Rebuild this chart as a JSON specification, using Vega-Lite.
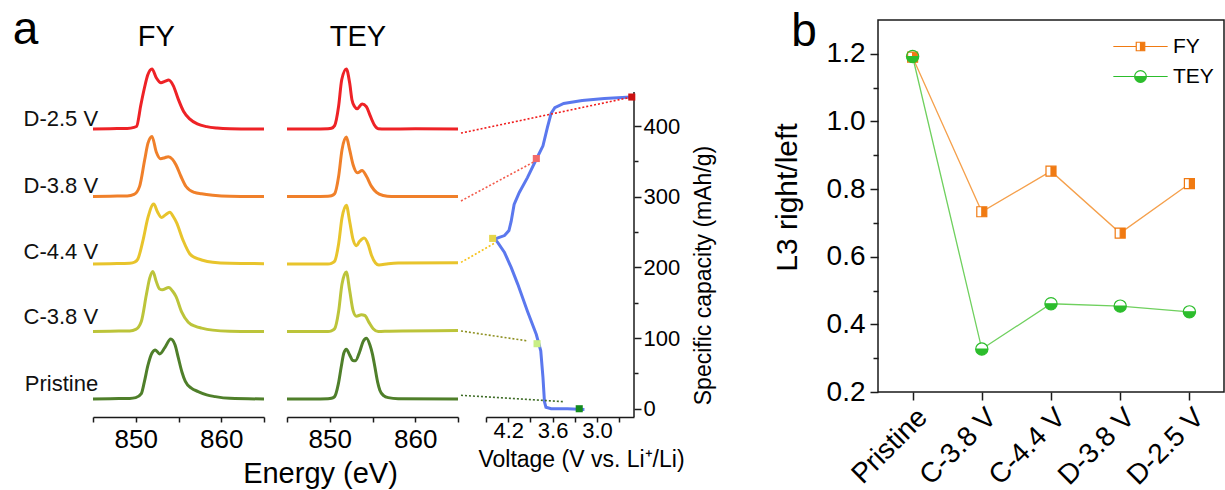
{
"$schema": "https://vega.github.io/schema/vega-lite/v6.json",
"padding": {"left": 12, "top": 6, "right": 0, "bottom": 0},
"background": "white",
"config": {
  "font": "Liberation Sans",
  "view": {"stroke": null},
  "axis": {"grid": false, "domainColor": "#1a1a1a", "tickColor": "#1a1a1a", "domainWidth": 1.5, "tickWidth": 1.5, "labelColor": "#000", "titleColor": "#000", "titleFontWeight": "normal", "labelFlush": false, "labelOverlap": false}
},
"bounds": "flush",
"spacing": 0,
"resolve": {"scale": {"color": "independent", "stroke": "independent", "fill": "independent", "shape": "independent"}, "legend": {"fill": "independent", "stroke": "independent", "shape": "independent"}},
"datasets": {
"fy": [
{"s":"D-2.5 V","e":845,"v":4.0},{"s":"D-2.5 V","e":847,"v":4.005},{"s":"D-2.5 V","e":849,"v":4.008},{"s":"D-2.5 V","e":849.8,"v":4.025},{"s":"D-2.5 V","e":850.1,"v":4.04},{"s":"D-2.5 V","e":850.6,"v":4.36},{"s":"D-2.5 V","e":851.0,"v":4.6},{"s":"D-2.5 V","e":851.4,"v":4.8},{"s":"D-2.5 V","e":851.9,"v":4.89},{"s":"D-2.5 V","e":852.4,"v":4.76},{"s":"D-2.5 V","e":852.95,"v":4.685},{"s":"D-2.5 V","e":853.4,"v":4.705},{"s":"D-2.5 V","e":853.85,"v":4.725},{"s":"D-2.5 V","e":854.4,"v":4.64},{"s":"D-2.5 V","e":854.95,"v":4.45},{"s":"D-2.5 V","e":855.6,"v":4.26},{"s":"D-2.5 V","e":856.3,"v":4.15},{"s":"D-2.5 V","e":857.2,"v":4.075},{"s":"D-2.5 V","e":858.3,"v":4.035},{"s":"D-2.5 V","e":859.5,"v":4.015},{"s":"D-2.5 V","e":861,"v":4.005},{"s":"D-2.5 V","e":865,"v":4.0},
{"s":"D-3.8 V","e":845,"v":3.0},{"s":"D-3.8 V","e":847,"v":3.005},{"s":"D-3.8 V","e":849,"v":3.008},{"s":"D-3.8 V","e":849.8,"v":3.03},{"s":"D-3.8 V","e":850.45,"v":3.15},{"s":"D-3.8 V","e":851.04,"v":3.54},{"s":"D-3.8 V","e":851.43,"v":3.79},{"s":"D-3.8 V","e":851.9,"v":3.89},{"s":"D-3.8 V","e":852.4,"v":3.66},{"s":"D-3.8 V","e":852.9,"v":3.56},{"s":"D-3.8 V","e":853.4,"v":3.575},{"s":"D-3.8 V","e":853.8,"v":3.59},{"s":"D-3.8 V","e":854.3,"v":3.55},{"s":"D-3.8 V","e":854.7,"v":3.47},{"s":"D-3.8 V","e":855.28,"v":3.3},{"s":"D-3.8 V","e":855.88,"v":3.148},{"s":"D-3.8 V","e":856.86,"v":3.06},{"s":"D-3.8 V","e":857.7,"v":3.04},{"s":"D-3.8 V","e":859,"v":3.02},{"s":"D-3.8 V","e":861,"v":3.005},{"s":"D-3.8 V","e":865,"v":3.0},
{"s":"C-4.4 V","e":845,"v":2.0},{"s":"C-4.4 V","e":847,"v":2.005},{"s":"C-4.4 V","e":849.3,"v":2.01},{"s":"C-4.4 V","e":849.9,"v":2.03},{"s":"C-4.4 V","e":850.25,"v":2.074},{"s":"C-4.4 V","e":850.84,"v":2.346},{"s":"C-4.4 V","e":851.43,"v":2.69},{"s":"C-4.4 V","e":852.1,"v":2.889},{"s":"C-4.4 V","e":852.55,"v":2.77},{"s":"C-4.4 V","e":853.0,"v":2.69},{"s":"C-4.4 V","e":853.5,"v":2.73},{"s":"C-4.4 V","e":853.98,"v":2.765},{"s":"C-4.4 V","e":854.4,"v":2.7},{"s":"C-4.4 V","e":854.76,"v":2.617},{"s":"C-4.4 V","e":855.55,"v":2.346},{"s":"C-4.4 V","e":856.33,"v":2.148},{"s":"C-4.4 V","e":857.0,"v":2.09},{"s":"C-4.4 V","e":857.7,"v":2.06},{"s":"C-4.4 V","e":859,"v":2.025},{"s":"C-4.4 V","e":861,"v":2.01},{"s":"C-4.4 V","e":865,"v":2.005},
{"s":"C-3.8 V","e":845,"v":1.0},{"s":"C-3.8 V","e":847,"v":1.005},{"s":"C-3.8 V","e":849.3,"v":1.008},{"s":"C-3.8 V","e":850.0,"v":1.03},{"s":"C-3.8 V","e":850.65,"v":1.148},{"s":"C-3.8 V","e":851.24,"v":1.543},{"s":"C-3.8 V","e":851.63,"v":1.79},{"s":"C-3.8 V","e":852.0,"v":1.889},{"s":"C-3.8 V","e":852.4,"v":1.74},{"s":"C-3.8 V","e":852.8,"v":1.63},{"s":"C-3.8 V","e":853.1,"v":1.62},{"s":"C-3.8 V","e":853.86,"v":1.652},{"s":"C-3.8 V","e":854.3,"v":1.6},{"s":"C-3.8 V","e":854.7,"v":1.52},{"s":"C-3.8 V","e":855.35,"v":1.296},{"s":"C-3.8 V","e":856.14,"v":1.138},{"s":"C-3.8 V","e":857.0,"v":1.075},{"s":"C-3.8 V","e":857.7,"v":1.05},{"s":"C-3.8 V","e":859,"v":1.02},{"s":"C-3.8 V","e":861,"v":1.005},{"s":"C-3.8 V","e":865,"v":1.0},
{"s":"Pristine","e":845,"v":0},{"s":"Pristine","e":847,"v":0.005},{"s":"Pristine","e":849.3,"v":0.008},{"s":"Pristine","e":850.0,"v":0.02},{"s":"Pristine","e":850.65,"v":0.08},{"s":"Pristine","e":851.0,"v":0.25},{"s":"Pristine","e":851.43,"v":0.5},{"s":"Pristine","e":851.9,"v":0.68},{"s":"Pristine","e":852.29,"v":0.726},{"s":"Pristine","e":852.8,"v":0.667},{"s":"Pristine","e":853.4,"v":0.76},{"s":"Pristine","e":854.09,"v":0.889},{"s":"Pristine","e":854.6,"v":0.8},{"s":"Pristine","e":854.96,"v":0.62},{"s":"Pristine","e":855.4,"v":0.4},{"s":"Pristine","e":855.8,"v":0.26},{"s":"Pristine","e":856.5,"v":0.16},{"s":"Pristine","e":857.3,"v":0.11},{"s":"Pristine","e":858.3,"v":0.06},{"s":"Pristine","e":859.3,"v":0.035},{"s":"Pristine","e":861,"v":0.01},{"s":"Pristine","e":865,"v":0}
],
"tey": [
{"s":"D-2.5 V","e":845,"v":4.0},{"s":"D-2.5 V","e":848,"v":4.0},{"s":"D-2.5 V","e":849.8,"v":4.005},{"s":"D-2.5 V","e":850.2,"v":4.012},{"s":"D-2.5 V","e":850.57,"v":4.05},{"s":"D-2.5 V","e":851.04,"v":4.34},{"s":"D-2.5 V","e":851.4,"v":4.73},{"s":"D-2.5 V","e":851.94,"v":4.89},{"s":"D-2.5 V","e":852.33,"v":4.68},{"s":"D-2.5 V","e":852.6,"v":4.43},{"s":"D-2.5 V","e":852.92,"v":4.33},{"s":"D-2.5 V","e":853.2,"v":4.3},{"s":"D-2.5 V","e":853.78,"v":4.37},{"s":"D-2.5 V","e":854.29,"v":4.33},{"s":"D-2.5 V","e":854.69,"v":4.21},{"s":"D-2.5 V","e":855.2,"v":4.064},{"s":"D-2.5 V","e":855.67,"v":4.005},{"s":"D-2.5 V","e":856.5,"v":4.0},{"s":"D-2.5 V","e":860,"v":4.003},{"s":"D-2.5 V","e":865,"v":4.0},
{"s":"D-3.8 V","e":845,"v":3.0},{"s":"D-3.8 V","e":848,"v":3.0},{"s":"D-3.8 V","e":849.8,"v":3.005},{"s":"D-3.8 V","e":850.2,"v":3.012},{"s":"D-3.8 V","e":850.57,"v":3.04},{"s":"D-3.8 V","e":851.04,"v":3.3},{"s":"D-3.8 V","e":851.43,"v":3.69},{"s":"D-3.8 V","e":851.94,"v":3.88},{"s":"D-3.8 V","e":852.33,"v":3.69},{"s":"D-3.8 V","e":852.73,"v":3.47},{"s":"D-3.8 V","e":853.24,"v":3.35},{"s":"D-3.8 V","e":853.78,"v":3.385},{"s":"D-3.8 V","e":854.29,"v":3.3},{"s":"D-3.8 V","e":854.88,"v":3.15},{"s":"D-3.8 V","e":855.47,"v":3.06},{"s":"D-3.8 V","e":856.25,"v":3.015},{"s":"D-3.8 V","e":857.2,"v":3.0},{"s":"D-3.8 V","e":865,"v":3.0},
{"s":"C-4.4 V","e":845,"v":2.0},{"s":"C-4.4 V","e":848,"v":2.0},{"s":"C-4.4 V","e":849.8,"v":2.0},{"s":"C-4.4 V","e":850.2,"v":2.01},{"s":"C-4.4 V","e":850.57,"v":2.04},{"s":"C-4.4 V","e":851.04,"v":2.3},{"s":"C-4.4 V","e":851.43,"v":2.68},{"s":"C-4.4 V","e":851.94,"v":2.87},{"s":"C-4.4 V","e":852.33,"v":2.63},{"s":"C-4.4 V","e":852.73,"v":2.36},{"s":"C-4.4 V","e":853.12,"v":2.27},{"s":"C-4.4 V","e":853.5,"v":2.336},{"s":"C-4.4 V","e":854.02,"v":2.385},{"s":"C-4.4 V","e":854.49,"v":2.29},{"s":"C-4.4 V","e":854.88,"v":2.13},{"s":"C-4.4 V","e":855.35,"v":2.015},{"s":"C-4.4 V","e":855.75,"v":1.985},{"s":"C-4.4 V","e":856.84,"v":2.005},{"s":"C-4.4 V","e":858,"v":2.015},{"s":"C-4.4 V","e":865,"v":2.02},
{"s":"C-3.8 V","e":845,"v":1.0},{"s":"C-3.8 V","e":848,"v":1.0},{"s":"C-3.8 V","e":849.8,"v":1.0},{"s":"C-3.8 V","e":850.2,"v":1.01},{"s":"C-3.8 V","e":850.57,"v":1.04},{"s":"C-3.8 V","e":851.04,"v":1.3},{"s":"C-3.8 V","e":851.43,"v":1.7},{"s":"C-3.8 V","e":851.94,"v":1.88},{"s":"C-3.8 V","e":852.33,"v":1.607},{"s":"C-3.8 V","e":852.73,"v":1.31},{"s":"C-3.8 V","e":853.12,"v":1.227},{"s":"C-3.8 V","e":853.7,"v":1.247},{"s":"C-3.8 V","e":854.1,"v":1.237},{"s":"C-3.8 V","e":854.57,"v":1.138},{"s":"C-3.8 V","e":855.08,"v":1.04},{"s":"C-3.8 V","e":855.67,"v":1.0},{"s":"C-3.8 V","e":857,"v":1.005},{"s":"C-3.8 V","e":865,"v":1.015},
{"s":"Pristine","e":845,"v":0},{"s":"Pristine","e":848,"v":0},{"s":"Pristine","e":849.8,"v":0.003},{"s":"Pristine","e":850.2,"v":0.01},{"s":"Pristine","e":850.57,"v":0.035},{"s":"Pristine","e":851.0,"v":0.22},{"s":"Pristine","e":851.35,"v":0.48},{"s":"Pristine","e":851.65,"v":0.68},{"s":"Pristine","e":851.94,"v":0.736},{"s":"Pristine","e":852.3,"v":0.66},{"s":"Pristine","e":852.7,"v":0.57},{"s":"Pristine","e":853.0,"v":0.565},{"s":"Pristine","e":853.5,"v":0.7},{"s":"Pristine","e":853.9,"v":0.85},{"s":"Pristine","e":854.3,"v":0.9},{"s":"Pristine","e":854.7,"v":0.8},{"s":"Pristine","e":855.0,"v":0.66},{"s":"Pristine","e":855.27,"v":0.48},{"s":"Pristine","e":855.6,"v":0.25},{"s":"Pristine","e":855.86,"v":0.13},{"s":"Pristine","e":856.3,"v":0.05},{"s":"Pristine","e":856.84,"v":0.02},{"s":"Pristine","e":858,"v":0.005},{"s":"Pristine","e":865,"v":0}
],
"lab": [
{"s":"D-2.5 V","e":845.6,"v":4.044},{"s":"D-3.8 V","e":845.6,"v":3.05},{"s":"C-4.4 V","e":845.6,"v":2.074},{"s":"C-3.8 V","e":845.6,"v":1.11},{"s":"Pristine","e":845.6,"v":0.118}
],
"volt": [
{"i":0,"V":3.17,"cap":-1},{"i":1,"V":3.4,"cap":0},{"i":2,"V":3.62,"cap":0},{"i":3,"V":3.69,"cap":2},{"i":4,"V":3.71,"cap":10},{"i":5,"V":3.73,"cap":44},{"i":6,"V":3.76,"cap":82},{"i":7,"V":3.82,"cap":105},{"i":8,"V":3.94,"cap":138},{"i":9,"V":4.07,"cap":176},{"i":10,"V":4.16,"cap":200},{"i":11,"V":4.25,"cap":221},{"i":12,"V":4.34,"cap":235},{"i":13,"V":4.38,"cap":240},{"i":14,"V":4.33,"cap":242},{"i":15,"V":4.25,"cap":245},{"i":16,"V":4.19,"cap":252},{"i":17,"V":4.16,"cap":265},{"i":18,"V":4.12,"cap":289},{"i":19,"V":4.05,"cap":306},{"i":20,"V":3.94,"cap":327},{"i":21,"V":3.82,"cap":353},{"i":22,"V":3.73,"cap":372},{"i":23,"V":3.67,"cap":398},{"i":24,"V":3.62,"cap":418},{"i":25,"V":3.57,"cap":426},{"i":26,"V":3.45,"cap":432},{"i":27,"V":3.2,"cap":436},{"i":28,"V":2.9,"cap":439},{"i":29,"V":2.54,"cap":441}
],
"vmark": [
{"s":"D-2.5 V","V":2.53,"cap":441},{"s":"D-3.8 V","V":3.82,"cap":354},{"s":"C-4.4 V","V":4.41,"cap":241},{"s":"C-3.8 V","V":3.81,"cap":92},{"s":"Pristine","V":3.24,"cap":0}
],
"conn": [
{"s":"D-2.5 V","V":4.838,"cap":390},{"s":"D-2.5 V","V":2.53,"cap":441},
{"s":"D-3.8 V","V":4.838,"cap":294},{"s":"D-3.8 V","V":3.84,"cap":350},
{"s":"C-4.4 V","V":4.838,"cap":207},{"s":"C-4.4 V","V":4.39,"cap":234},
{"s":"C-3.8 V","V":4.838,"cap":110},{"s":"C-3.8 V","V":3.94,"cap":96},
{"s":"Pristine","V":4.838,"cap":19},{"s":"Pristine","V":3.46,"cap":10}
],
"ratio": [
{"c":"Pristine","k":"FY","r":1.19},{"c":"C-3.8 V","k":"FY","r":0.733},{"c":"C-4.4 V","k":"FY","r":0.853},{"c":"D-3.8 V","k":"FY","r":0.67},{"c":"D-2.5 V","k":"FY","r":0.816},
{"c":"Pristine","k":"TEY","r":1.192},{"c":"C-3.8 V","k":"TEY","r":0.327},{"c":"C-4.4 V","k":"TEY","r":0.461},{"c":"D-3.8 V","k":"TEY","r":0.454},{"c":"D-2.5 V","k":"TEY","r":0.437}
]
},
"hconcat": [
{
 "width": 171, "height": 397,
 "layer": [
  {"data": {"name": "fy"}, "mark": {"type": "line", "interpolate": "monotone", "strokeWidth": 3},
   "encoding": {
    "x": {"field": "e", "type": "quantitative", "title": "Energy (eV)", "scale": {"domain": [845, 865], "nice": false, "zero": false},
      "axis": {"values": [845, 850, 855, 860, 865], "labelExpr": "datum.value == 850 || datum.value == 860 ? datum.label : ''", "tickSize": 5, "labelFontSize": 26, "labelPadding": 4, "titleFontSize": 29, "titleX": 227, "titleY": 65, "titleBaseline": "alphabetic", "titleAlign": "center"}},
    "y": {"field": "v", "type": "quantitative", "scale": {"domain": [-0.267, 5.615], "nice": false, "zero": false}, "axis": null},
    "color": {"field": "s", "type": "nominal", "scale": {"domain": ["D-2.5 V", "D-3.8 V", "C-4.4 V", "C-3.8 V", "Pristine"], "range": ["#ee2226", "#f0802a", "#e8c42c", "#bcc43a", "#4f7f2a"]}, "legend": null}
   }},
  {"data": {"name": "lab"}, "mark": {"type": "text", "align": "right", "baseline": "alphabetic", "fontSize": 22, "color": "#111"},
   "encoding": {"x": {"field": "e", "type": "quantitative", "title": "Energy (eV)"}, "y": {"field": "v", "type": "quantitative", "axis": null}, "text": {"field": "s"}}},
  {"data": {"values": [{"t": "a", "e": 835.6, "v": 5.26}]}, "mark": {"type": "text", "align": "left", "baseline": "alphabetic", "fontSize": 46, "color": "#000"},
   "encoding": {"x": {"field": "e", "type": "quantitative", "title": "Energy (eV)"}, "y": {"field": "v", "type": "quantitative", "axis": null}, "text": {"field": "t"}}},
  {"data": {"values": [{"t": "FY", "e": 852.4, "v": 5.23}]}, "mark": {"type": "text", "align": "center", "baseline": "alphabetic", "fontSize": 29, "color": "#000"},
   "encoding": {"x": {"field": "e", "type": "quantitative", "title": "Energy (eV)"}, "y": {"field": "v", "type": "quantitative", "axis": null}, "text": {"field": "t"}}}
 ]
},
{"width": 23, "height": 10, "data": {"values": [{}]}, "mark": "text", "encoding": {"text": {"value": ""}}},
{
 "width": 171, "height": 397,
 "layer": [
  {"data": {"name": "tey"}, "mark": {"type": "line", "interpolate": "monotone", "strokeWidth": 3},
   "encoding": {
    "x": {"field": "e", "type": "quantitative", "scale": {"domain": [845, 865], "nice": false, "zero": false},
      "axis": {"values": [845, 850, 855, 860, 865], "labelExpr": "datum.value == 850 || datum.value == 860 ? datum.label : ''", "tickSize": 5, "labelFontSize": 26, "labelPadding": 4, "title": null}},
    "y": {"field": "v", "type": "quantitative", "scale": {"domain": [-0.267, 5.615], "nice": false, "zero": false}, "axis": null},
    "color": {"field": "s", "type": "nominal", "scale": {"domain": ["D-2.5 V", "D-3.8 V", "C-4.4 V", "C-3.8 V", "Pristine"], "range": ["#ee2226", "#f0802a", "#e8c42c", "#bcc43a", "#4f7f2a"]}, "legend": null}
   }},
  {"data": {"values": [{"t": "TEY", "e": 853.3, "v": 5.23}]}, "mark": {"type": "text", "align": "center", "baseline": "alphabetic", "fontSize": 29, "color": "#000"},
   "encoding": {"x": {"field": "e", "type": "quantitative", "title": null}, "y": {"field": "v", "type": "quantitative", "axis": null}, "text": {"field": "t"}}}
 ]
},
{"width": 28, "height": 10, "data": {"values": [{}]}, "mark": "text", "encoding": {"text": {"value": ""}}},
{
 "width": 148, "height": 397,
 "resolve": {"axis": {"x": "independent"}},
 "layer": [
  {"data": {"name": "volt"}, "mark": {"type": "line", "color": "#5b78ee", "strokeWidth": 3},
   "encoding": {
    "x": {"field": "V", "type": "quantitative", "title": "Voltage (V vs. Li⁺/Li)", "scale": {"domain": [4.5, 2.5], "nice": false, "zero": false},
      "axis": {"orient": "bottom", "values": [4.2, 3.6, 3.0], "format": ".1f", "tickSize": 5, "labelFontSize": 22, "labelPadding": -2, "titleFontSize": 23, "titleX": 95, "titleY": 49, "titleBaseline": "alphabetic", "titleAlign": "center"}},
    "y": {"field": "cap", "type": "quantitative", "title": "Specific capacity (mAh/g)", "scale": {"domain": [-11.7, 550], "nice": false, "zero": false},
      "axis": {"orient": "right", "domain": false, "values": [0, 50, 100, 150, 200, 250, 300, 350, 400], "labelExpr": "datum.value % 100 == 0 ? datum.label : ''", "tickSize": {"condition": {"test": "datum.value % 100 != 0", "value": 4}, "value": 7}, "labelFontSize": 22, "labelPadding": 2, "titleFontSize": 23, "titleAngle": 270, "titleX": 76, "titleY": 255, "titleBaseline": "alphabetic", "titleAlign": "center"}},
    "order": {"field": "i", "type": "quantitative"}
   }},
  {"data": {"values": [{"V": 2.5, "c0": -11.7, "c1": 448}]}, "mark": {"type": "rule", "color": "#1a1a1a", "strokeWidth": 1.5},
   "encoding": {"x": {"field": "V", "type": "quantitative", "axis": null}, "y": {"field": "c0", "type": "quantitative", "title": "Specific capacity (mAh/g)"}, "y2": {"field": "c1"}}},
  {"data": {"name": "conn"}, "mark": {"type": "line", "strokeDash": [2, 2], "strokeWidth": 1.6},
   "encoding": {"x": {"field": "V", "type": "quantitative", "axis": {"orient": "bottom", "values": [4.5, 3.9, 3.3, 2.7], "labels": false, "domain": false, "tickSize": 5, "title": null}},
    "y": {"field": "cap", "type": "quantitative", "title": "Specific capacity (mAh/g)"},
    "stroke": {"field": "s", "type": "nominal", "scale": {"domain": ["D-2.5 V", "D-3.8 V", "C-4.4 V", "C-3.8 V", "Pristine"], "range": ["#f01c1c", "#f25a4a", "#f7c21a", "#8e9020", "#3d6b25"]}, "legend": null}}},
  {"data": {"name": "vmark"}, "mark": {"type": "point", "shape": "square", "filled": true, "size": 50, "opacity": 1},
   "encoding": {"x": {"field": "V", "type": "quantitative", "axis": null},
    "y": {"field": "cap", "type": "quantitative", "title": "Specific capacity (mAh/g)"},
    "fill": {"field": "s", "type": "nominal", "scale": {"domain": ["D-2.5 V", "D-3.8 V", "C-4.4 V", "C-3.8 V", "Pristine"], "range": ["#cc1111", "#f26b6b", "#e6d64a", "#c9ef86", "#138a1e"]}, "legend": null}}},
  {"data": {"values": [{"t": "b", "V": 0.376, "cap": 513}]}, "mark": {"type": "text", "align": "left", "baseline": "alphabetic", "fontSize": 46, "color": "#000"},
   "encoding": {"x": {"field": "V", "type": "quantitative", "axis": null},
    "y": {"field": "cap", "type": "quantitative", "title": "Specific capacity (mAh/g)"},
    "text": {"field": "t"}}}
 ]
},
{"width": 244, "height": 10, "data": {"values": [{}]}, "mark": "text", "encoding": {"text": {"value": ""}}},
{
 "width": 346, "height": 372,
 "view": {"stroke": "#1a1a1a", "strokeWidth": 1.5},
 "data": {"name": "ratio"},
 "encoding": {
  "x": {"field": "c", "type": "nominal", "sort": null, "scale": {"type": "point", "padding": 0.5},
    "axis": {"labelAngle": -45, "labelFontSize": 28, "tickSize": 8, "labelPadding": 3, "title": null, "domain": false, "labelAlign": "right", "labelBaseline": "top"}},
  "y": {"field": "r", "type": "quantitative", "scale": {"domain": [0.2, 1.3], "nice": false, "zero": false},
    "axis": {"values": [0.2, 0.3, 0.4, 0.5, 0.6, 0.7, 0.8, 0.9, 1.0, 1.1, 1.2], "labelExpr": "round(datum.value*10) % 2 == 0 ? format(datum.value, '.1f') : ''", "tickSize": {"condition": {"test": "round(datum.value*10) % 2 == 1", "value": 5}, "value": 8}, "labelFontSize": 28, "labelPadding": 5, "title": "L3 right/left", "titleFontSize": 30, "titleAngle": 270, "titleX": -82, "titleY": 177, "titleBaseline": "alphabetic", "titleAlign": "center", "domain": false}}
 },
 "layer": [
  {"transform": [{"filter": "datum.k === 'FY'"}], "mark": {"type": "line", "strokeWidth": 1.3, "color": "#f5a04c"}},
  {"transform": [{"filter": "datum.k === 'TEY'"}], "mark": {"type": "line", "strokeWidth": 1.3, "color": "#6fd05e"}},
  {"transform": [{"filter": "datum.k === 'FY'"}], "mark": {"type": "point", "shape": "square", "size": 100, "filled": true, "fill": "white", "opacity": 1, "strokeWidth": 0}},
  {"transform": [{"filter": "datum.k === 'TEY'"}], "mark": {"type": "point", "shape": "circle", "size": 150, "filled": true, "fill": "white", "opacity": 1, "strokeWidth": 0}},
  {"transform": [{"filter": "datum.k === 'FY'"}], "mark": {"type": "point", "shape": "M-1,-1H1V1H-1ZM-1,-1V1H0V-1Z", "size": 100, "filled": true, "fill": "#f07a12", "stroke": "#f07a12", "strokeWidth": 1.2, "opacity": 1}},
  {"transform": [{"filter": "datum.k === 'TEY'"}], "mark": {"type": "point", "shape": "M-1,0A1,1 0 1,1 1,0A1,1 0 1,1 -1,0ZM-1,0L1,0A1,1 0 0,0 -1,0Z", "size": 150, "filled": true, "fill": "#2cbd2c", "stroke": "#2cbd2c", "strokeWidth": 1.2, "opacity": 1}},
  {"mark": {"type": "point", "filled": true, "opacity": 0, "size": 72, "strokeWidth": 1.2},
   "encoding": {
    "shape": {"field": "k", "type": "nominal", "scale": {"domain": ["FY", "TEY"], "range": ["M-6.4,0H-1M1,0H6.4M-1,-1H1V1H-1ZM-1,-1V1H0V-1Z", "M-6.4,0H-1.38M1.38,0H6.4M-1.38,0A1.38,1.38 0 1,1 1.38,0A1.38,1.38 0 1,1 -1.38,0ZM-1.38,0L1.38,0A1.38,1.38 0 0,0 -1.38,0Z"]},
      "legend": {"title": null, "orient": "none", "legendX": 252, "legendY": 16, "padding": 0, "labelFontSize": 21, "labelColor": "#000", "symbolSize": 72, "symbolOpacity": 1, "symbolStrokeWidth": 1.2, "labelOffset": 22, "rowPadding": 8}},
    "fill": {"field": "k", "type": "nominal", "scale": {"domain": ["FY", "TEY"], "range": ["#f07a12", "#2cbd2c"]},
      "legend": {"title": null, "orient": "none", "legendX": 252, "legendY": 16, "padding": 0, "labelFontSize": 21, "labelColor": "#000", "symbolSize": 72, "symbolOpacity": 1, "symbolStrokeWidth": 1.2, "labelOffset": 22, "rowPadding": 8}},
    "stroke": {"field": "k", "type": "nominal", "scale": {"domain": ["FY", "TEY"], "range": ["#f07a12", "#2cbd2c"]},
      "legend": {"title": null, "orient": "none", "legendX": 252, "legendY": 16, "padding": 0, "labelFontSize": 21, "labelColor": "#000", "symbolSize": 72, "symbolOpacity": 1, "symbolStrokeWidth": 1.2, "labelOffset": 22, "rowPadding": 8}}
   }}
 ]
}
]
}
